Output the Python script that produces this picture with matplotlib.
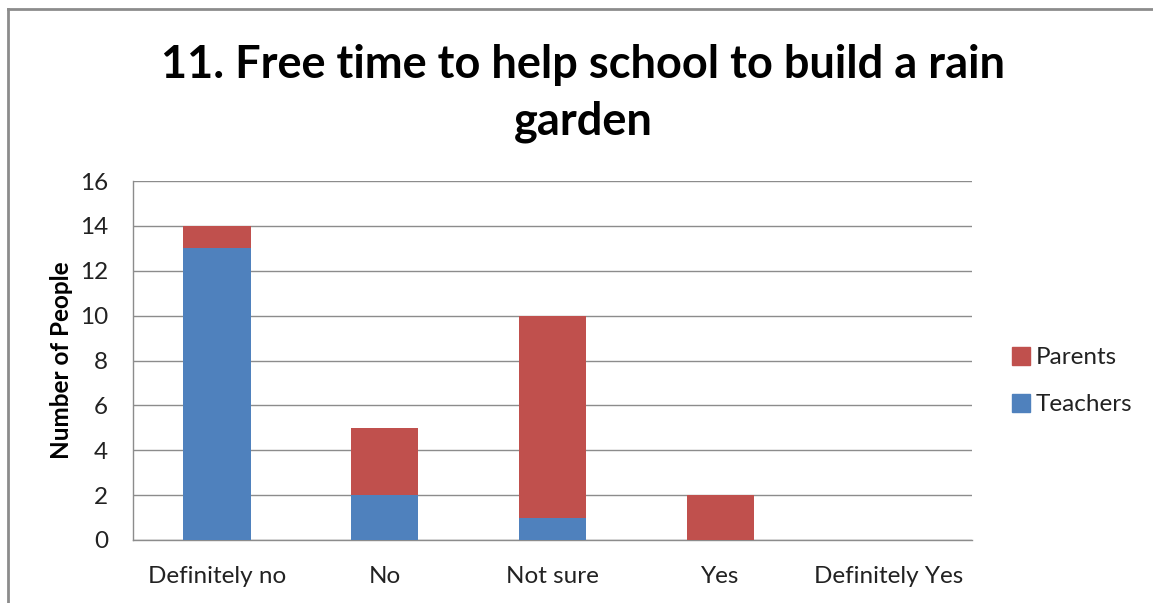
import matplotlib
matplotlib.use("Agg")
import matplotlib.pyplot as plt
import numpy as np
from matplotlib.patches import Rectangle
from matplotlib.lines import Line2D

categories = ["Definitely no", "No", "Not sure", "Yes", "Definitely Yes"]
teachers = [13, 2, 1, 0, 0]
parents = [1, 3, 9, 2, 0]
y_ticks = [0, 2, 4, 6, 8, 10, 12, 14, 16]
title = "11. Free time to help school to build a rain\ngarden"
y_label = "Number of People"

plt.rcParams['font.family'] = ['Lato', 'DejaVu Sans']

fig = plt.figure(figsize=(11.53, 6.03), dpi=100)
ax = fig.add_axes([0.1154, 0.1045, 0.7277, 0.5953])

x = np.arange(len(categories))
blue = "#4F81BD"
red = "#C0504D"
ax.bar(x, teachers, width=0.4, color=blue, label="Teachers", zorder=3)
ax.bar(x, parents, width=0.4, bottom=teachers, color=red, label="Parents", zorder=3)

ax.set_xlim(-0.5, len(categories) - 0.5)
ax.set_ylim(0, 16)
ax.set_yticks(y_ticks)
ax.set_xticks(x)
ax.set_xticklabels(categories, fontsize=17.5, color="#222222")
ax.tick_params(axis='y', labelsize=17.5, labelcolor="#222222", length=0, pad=18)
ax.tick_params(axis='x', length=0, pad=19)
ax.yaxis.grid(True, color="#8c8c8c", linewidth=1.0, zorder=0)
ax.set_axisbelow(True)
for s in ["top", "right"]:
    ax.spines[s].set_visible(False)
for s in ["left", "bottom"]:
    ax.spines[s].set_color("#8c8c8c")
    ax.spines[s].set_linewidth(1.0)

ax.set_ylabel(y_label, fontsize=17.5, fontweight="bold", labelpad=5)

fig.text(0.506, 0.845, title, ha="center", va="center", fontsize=32.5,
         fontweight="bold", linespacing=1.45)

handles = [Rectangle((0, 0), 1, 1, color=red), Rectangle((0, 0), 1, 1, color=blue)]
fig.legend(handles, ["Parents", "Teachers"], loc="center left",
           bbox_to_anchor=(0.8585, 0.368), frameon=False, fontsize=17.5,
           handlelength=0.75, handleheight=0.75, handletextpad=0.25,
           labelspacing=1.05, labelcolor="#222222")

# outer chart border (top and left visible)
fig.add_artist(Line2D([0.007, 0.007], [0, 0.985], transform=fig.transFigure,
                      color="#8c8c8c", linewidth=2))
fig.add_artist(Line2D([0.007, 1.0], [0.985, 0.985], transform=fig.transFigure,
                      color="#8c8c8c", linewidth=2))

fig.savefig("out.png", dpi=100)
